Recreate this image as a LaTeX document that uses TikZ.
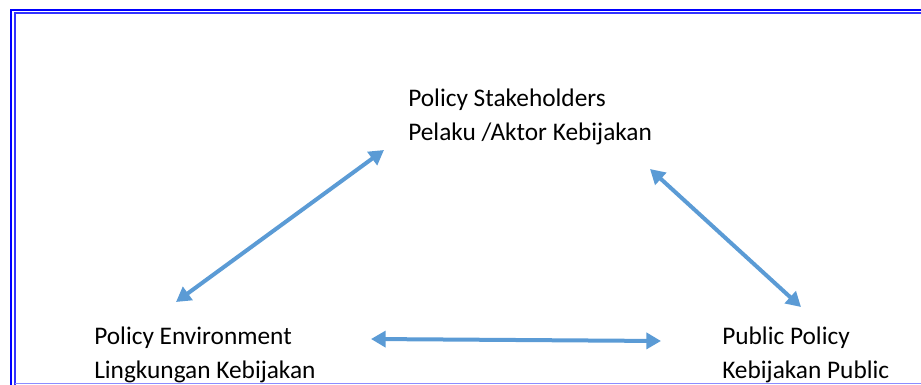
\documentclass[tikz,border=0pt]{standalone}
\usepackage{fontspec}
\setmainfont{Carlito}
\usetikzlibrary{arrows.meta,positioning}

\begin{document}
\begin{tikzpicture}[x=0.75pt,y=-0.75pt]
\definecolor{frame blue}{RGB}{0,0,255}
\definecolor{arrow blue}{RGB}{91,155,213}
\tikzset{
     textblock/.style={anchor=base west, inner sep=0pt, align=left,
        font=\fontsize{19pt}{25.5pt}\selectfont},
     link/.style={draw=arrow blue, line width=3pt,
        {Triangle[length=11pt,width=12pt]}-{Triangle[length=11pt,width=12pt]}}}

\useasboundingbox (0,0) rectangle (921,385);

% The frame
\draw [frame blue, line width=2pt] (11,385) -- (11,10) -- (921,10);
\draw [frame blue!80, line width=1.5pt] (14.5,385) -- (14.5,13.5) -- (921,13.5);
\draw [frame blue!45, line width=1pt] (15,383.5) -- (921,383.5);

% The texts (base = last line)
\node (stakeholders) [textblock] at (408,141) {Policy Stakeholders\\Pelaku /Aktor Kebijakan};
\node (environment)  [textblock] at (94,378) {Policy Environment\\Lingkungan Kebijakan};
\node (publicpolicy) [textblock] at (722,378) {Public Policy\\Kebijakan Public};

% The arrows
\draw [link] ([shift={(82,-76)}]environment.base west) -- ([shift={(-24,9)}]stakeholders.base west);
\draw [link] ([shift={(242,28)}]stakeholders.base west) -- ([shift={(79,-71)}]publicpolicy.base west);
\draw [link] ([shift={(277,-39)}]environment.base west) -- ([shift={(-61,-37)}]publicpolicy.base west);
\end{tikzpicture}
\end{document}
